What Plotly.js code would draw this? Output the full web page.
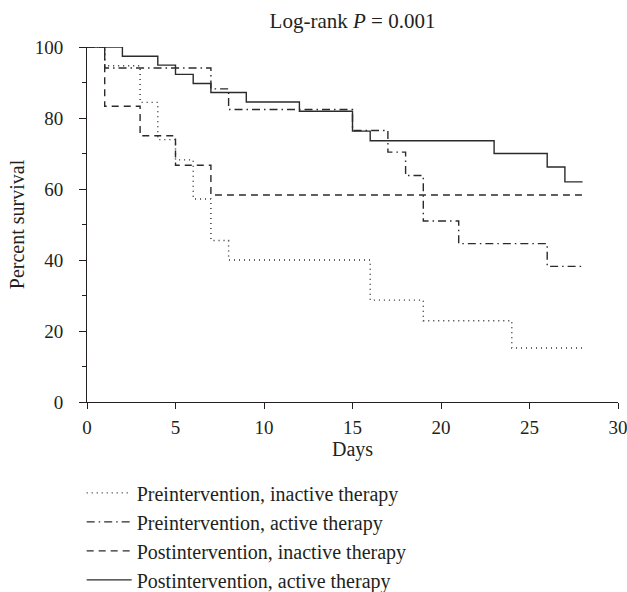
<!DOCTYPE html>
<html>
<head>
<meta charset="utf-8">
<script src="https://cdn.plot.ly/plotly-3.0.1.min.js"></script>
<style>html,body{margin:0;padding:0;background:#fff;}#chart{width:627px;height:592px;}</style>
</head>
<body>
<div id="chart"></div>
<script>
// Series names
const seriesNames = [
  "Preintervention, inactive therapy",
  "Preintervention, active therapy",
  "Postintervention, inactive therapy",
  "Postintervention, active therapy"
];
// Step-change days and survival (%) for each group
const preInactiveDays = [0, 1, 3, 4, 5, 6, 7, 8, 16, 19, 24, 28];
const preInactiveSurv = [100, 94.7, 84.4, 73.9, 68.2, 57.2, 45.5, 40.0, 28.7, 22.9, 15.2, 15.2];

const preActiveDays = [0, 1, 7, 8, 15, 17, 18, 19, 21, 26, 28];
const preActiveSurv = [100, 94.1, 88.2, 82.4, 76.5, 70.4, 63.8, 51.0, 44.6, 38.2, 38.2];

const postInactiveDays = [0, 1, 3, 5, 7, 28];
const postInactiveSurv = [100, 83.3, 75.0, 66.7, 58.3, 58.3];

const postActiveDays = [0, 2, 4, 5, 6, 7, 9, 12, 15, 16, 23, 26, 27, 28];
const postActiveSurv = [100, 97.4, 94.9, 92.3, 89.7, 87.2, 84.5, 81.9, 76.3, 73.6, 70.0, 66.2, 62.0, 62.0];

const xTicks = [0, 5, 10, 15, 20, 25, 30];
const yTicks = [0, 20, 40, 60, 80, 100];

const lineColor = "#2b2b2b";
const font = "Liberation Serif, Times New Roman, serif";
const textColor = "#231f20";

function trace(x, y, name, dash, group) {
  return {
    x: x, y: y, name: name, type: "scatter", mode: "lines",
    line: {shape: "hv", color: lineColor, width: 1.4, dash: dash},
    legendgroup: group, hoverinfo: "skip"
  };
}

const data = [
  trace(preInactiveDays, preInactiveSurv, seriesNames[0], "1px,4px", "a"),
  trace(preActiveDays, preActiveSurv, seriesNames[1], "8px,4px,1.5px,4px", "b"),
  trace(postInactiveDays, postInactiveSurv, seriesNames[2], "7px,5px", "c"),
  trace(postActiveDays, postActiveSurv, seriesNames[3], "solid", "d")
];

const layout = {
  width: 627, height: 592,
  margin: {l: 87, r: 9, t: 47, b: 190, autoexpand: false},
  paper_bgcolor: "#fff", plot_bgcolor: "#fff",
  font: {family: font, size: 19, color: textColor},
  title: {text: "Log-rank <i>P</i> = 0.001", xref: "paper", x: 0.5, xanchor: "center",
          yref: "container", y: 0.965, yanchor: "middle",
          font: {family: font, size: 21, color: textColor}},
  showlegend: true,
  legend: {x: -0.01, y: -0.201, xanchor: "left", yanchor: "top", traceorder: "grouped",
           tracegroupgap: 0, itemwidth: 45, bgcolor: "rgba(0,0,0,0)",
           font: {family: font, size: 20, color: textColor}},
  xaxis: {
    range: [0, 30], tickvals: xTicks, ticktext: xTicks.map(String),
    showgrid: false, zeroline: false, showline: true, linecolor: textColor, linewidth: 1,
    ticks: "outside", ticklen: 6, tickcolor: textColor, tickwidth: 1,
    ticklabeloverflow: "allow", ticklabelstandoff: 2,
    tickfont: {family: font, size: 19, color: textColor},
    title: {text: "Days", font: {family: font, size: 20, color: textColor}, standoff: 4},
    fixedrange: true
  },
  yaxis: {
    range: [0, 100], tickvals: yTicks, ticktext: yTicks.map(String),
    showgrid: false, zeroline: false, showline: true, linecolor: textColor, linewidth: 1,
    ticks: "outside", ticklen: 7, tickcolor: textColor, tickwidth: 1,
    ticklabelstandoff: 12,
    minor: {dtick: 10, ticks: "outside", ticklen: 4, tickcolor: textColor, showgrid: false},
    tickfont: {family: font, size: 19, color: textColor},
    title: {text: "Percent survival", font: {family: font, size: 20, color: textColor}, standoff: 4},
    fixedrange: true
  }
};

Plotly.newPlot("chart", data, layout, {displayModeBar: false, staticPlot: true});
</script>
</body>
</html>
